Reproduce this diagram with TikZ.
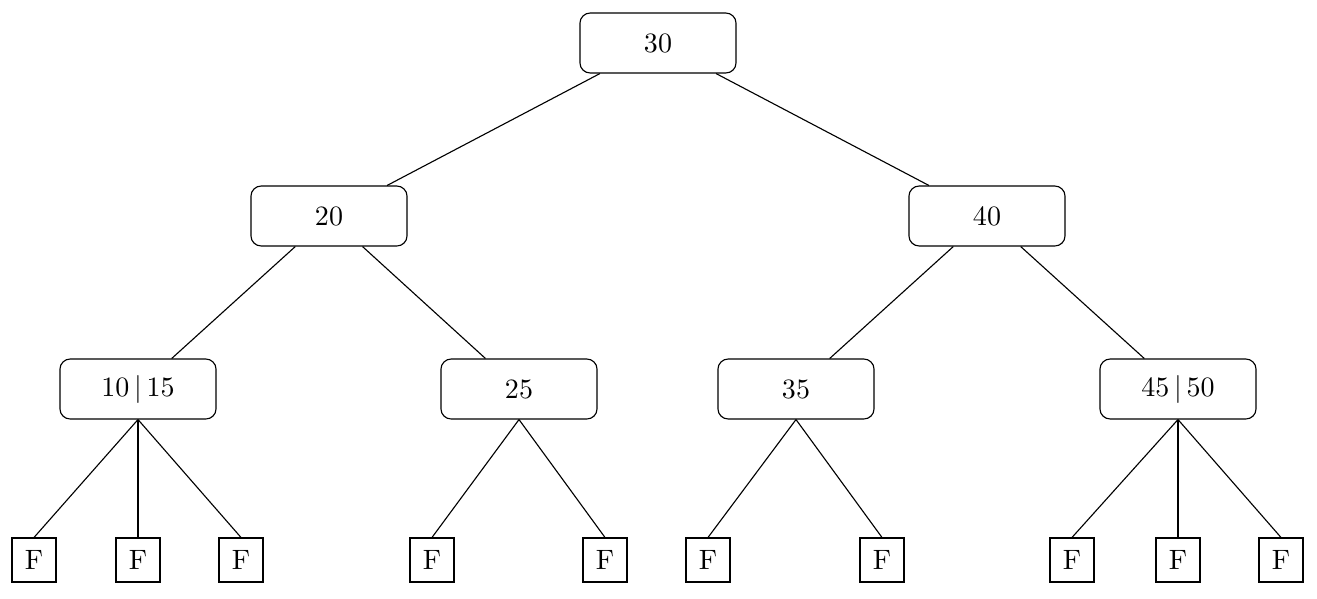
\documentclass[tikz,border=0pt]{standalone}
\usepackage{tikz}
\usetikzlibrary{positioning}

\begin{document}
\begin{tikzpicture}[x=0.357pt,y=-0.357pt,
  inner/.style={draw,rounded corners=3.6pt,minimum width=55.7pt,minimum height=21.4pt},
  leaf/.style={draw,minimum width=15.7pt,minimum height=15.7pt,inner sep=0pt}]
\useasboundingbox (0,0) rectangle (1317,598);

\node (N30) at (658,43)[inner] {$30$};
\node (N20) at (329,216)[inner] {$20$};
\node (N40) at (987,216)[inner] {$40$};
\node (N1015) at (138,389)[inner] {$10\,|\,15$};
\node (N25) at (519,389)[inner] {$25$};
\node (N35) at (796,389)[inner] {$35$};
\node (N4550) at (1178,389)[inner] {$45\,|\,50$};

\foreach \name/\x in {L1/34,L2/138,L3/241,L4/432,L5/605,L6/708,L7/882,L8/1072,L9/1178,L10/1281}
  \node (\name) at (\x,560)[leaf] {F};

\draw (N30) -- (N20);
\draw (N30) -- (N40);
\draw (N20) -- (N1015);
\draw (N20) -- (N25);
\draw (N40) -- (N35);
\draw (N40) -- (N4550);
\foreach \p/\c in {N1015/L1,N1015/L2,N1015/L3,N25/L4,N25/L5,N35/L6,N35/L7,N4550/L8,N4550/L9,N4550/L10}
  \draw (\p.south) -- (\c.north);
\end{tikzpicture}
\end{document}
